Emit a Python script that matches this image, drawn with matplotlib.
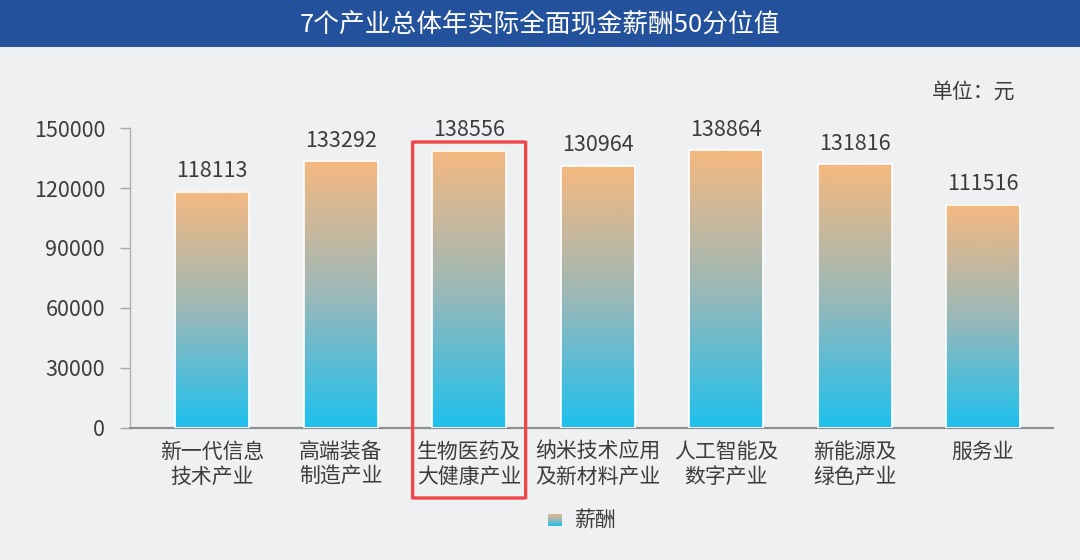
import matplotlib
matplotlib.use("Agg")
from matplotlib import pyplot as plt
from matplotlib.patches import Rectangle, FancyBboxPatch
from matplotlib.colors import LinearSegmentedColormap
import numpy as np

plt.rcParams['font.family'] = ['Noto Sans CJK SC', 'DejaVu Sans']

# data
categories = ["新一代信息\n技术产业", "高端装备\n制造产业", "生物医药及\n大健康产业",
              "纳米技术应用\n及新材料产业", "人工智能及\n数字产业", "新能源及\n绿色产业", "服务业"]
salary = [118113, 133292, 138556, 130964, 138864, 131816, 111516]
yticks = [0, 30000, 60000, 90000, 120000, 150000]
highlight = "生物医药及\n大健康产业"
title = "7个产业总体年实际全面现金薪酬50分位值"
unit = "单位：元"
legend_label = "薪酬"

bg = "#eef0f1"
txt = "#3c3c3c"
grad = LinearSegmentedColormap.from_list("g", ["#1ec0ee", "#9cb8b8", "#f5b880"])
gimg = np.linspace(0, 1, 256).reshape(-1, 1)

fig = plt.figure(figsize=(10.8, 5.6), dpi=100, facecolor=bg)

# title bar
fig.patches.append(Rectangle((0, 1 - 47/560), 1, 47/560, transform=fig.transFigure,
                             facecolor="#24519b", edgecolor="none", zorder=0))
fig.text(0.5, 1 - 24/560, title, color="white", fontsize=18.5, ha="center", va="center")

ax = fig.add_axes([130/1080, 132/560, 923/1080, 300/560])
ax.set_facecolor(bg)
x = np.arange(len(categories))
w = 0.576
for xi, v in zip(x, salary):
    ax.imshow(gimg, extent=[xi - w/2, xi + w/2, 0, v], origin="lower",
              aspect="auto", cmap=grad, zorder=2)
    ax.add_patch(Rectangle((xi - w/2, 0), w, v, facecolor="none",
                           edgecolor="white", linewidth=1.2, zorder=3))
    ax.annotate(str(v), (xi, v), xytext=(0, 7), textcoords="offset points",
                ha="center", va="bottom", fontsize=15.5, color=txt, annotation_clip=False)

ax.set_xlim(-0.64, len(categories) - 1 + 0.545)
ax.set_ylim(0, 150000)
ax.set_yticks(yticks)
ax.set_yticklabels([str(t) for t in yticks], fontsize=15.5, color=txt)
ax.set_xticks(x)
ax.set_xticklabels(categories, fontsize=15, color=txt, linespacing=1.2)
ax.tick_params(axis="x", length=0, pad=9)
ax.tick_params(axis="y", length=7, width=1, color="#a8a8a8", pad=11)
for s in ["top", "right"]:
    ax.spines[s].set_visible(False)
ax.spines["left"].set_color("#b0b0b0")
ax.spines["left"].set_linewidth(1)
ax.spines["bottom"].set_color("#909090")
ax.spines["bottom"].set_linewidth(1.6)

# highlight box
hi = categories.index(highlight)
box = FancyBboxPatch((hi - 0.44, -35000), 0.88, 178000,
                     boxstyle="round,pad=0,rounding_size=0.02", mutation_aspect=6000,
                     facecolor="none", edgecolor="#f04848", linewidth=2.4,
                     clip_on=False, zorder=5)
ax.add_patch(box)

# unit
fig.text(1015/1080, 1 - 92/560, unit, fontsize=15, color=txt, ha="right", va="center")

# legend
lax = fig.add_axes([548/1080, 1 - 526/560, 14/1080, 12/560])
lax.imshow(gimg, origin="lower", aspect="auto", cmap=grad)
lax.axis("off")
fig.text(575/1080, 1 - 520/560, legend_label, fontsize=15, color=txt, ha="left", va="center")

fig.savefig("out.png", dpi=100, facecolor=bg)
